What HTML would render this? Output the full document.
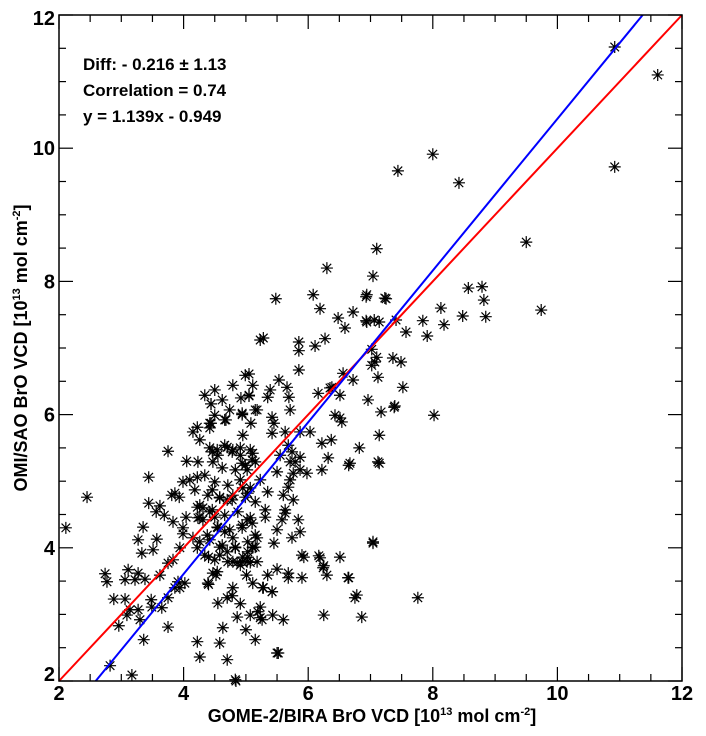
<!DOCTYPE html>
<html><head><meta charset="utf-8">
<style>
html,body{margin:0;padding:0;background:#fff;}
svg{display:block;}
text{font-family:"Liberation Sans",Arial,sans-serif;font-weight:bold;fill:#000;}
</style></head>
<body>
<svg id="chart" width="706" height="736" viewBox="0 0 706 736">
  <g id="marks"></g>
  <g id="ticks"></g>
  <line id="redline" stroke="#ff0000" stroke-width="2"/>
  <line id="blueline" stroke="#0000ff" stroke-width="2"/>
  <rect x="59" y="15" width="623" height="666" fill="none" stroke="#000" stroke-width="1.5"/>
  <g id="labels"></g>
  <text x="83" y="70" font-size="17">Diff: - 0.216 ± 1.13</text>
  <text x="83" y="96" font-size="17">Correlation = 0.74</text>
  <text x="83" y="122" font-size="17">y = 1.139x - 0.949</text>
  <text x="372" y="722" font-size="18" text-anchor="middle">GOME-2/BIRA BrO VCD [10<tspan font-size="11" dy="-7">13</tspan><tspan dy="7"> mol cm</tspan><tspan font-size="11" dy="-7">-2</tspan><tspan dy="7">]</tspan></text>
  <text transform="translate(27,348) rotate(-90)" font-size="18" text-anchor="middle">OMI/SAO BrO VCD [10<tspan font-size="11" dy="-7">13</tspan><tspan dy="7"> mol cm</tspan><tspan font-size="11" dy="-7">-2</tspan><tspan dy="7">]</tspan></text>
</svg>
<script>
const xTicks = [2,4,6,8,10,12];
const yTicks = [2,4,6,8,10,12];
const xDomain = [2,12];
const yDomain = [2,12];
const slope = 1.139;
const intercept = -0.949;
const xVals = [10.92,11.61,10.92,8.00,7.44,8.42,9.50,9.74,7.10,6.30,7.04,8.57,8.79,8.82,8.85,8.48,8.13,8.18,7.84,7.91,7.23,6.93,6.93,7.06,7.41,7.57,7.36,7.49,7.52,7.38,8.02,7.02,7.07,7.12,7.14,7.12,7.04,7.76,6.75,6.86,6.65,6.65,6.82,6.51,6.22,5.93,6.17,6.25,6.25,5.52,5.90,5.68,5.87,
5.48,6.08,6.19,6.48,6.72,6.59,6.94,7.25,6.94,7.14,5.23,5.28,5.85,5.85,6.11,6.27,5.05,5.85,5.53,5.39,5.35,5.66,5.69,5.05,4.44,4.42,4.66,4.94,5.18,5.42,5.45,5.71,5.08,5.42,4.95,6.16,6.35,6.51,6.43,6.54,5.87,6.03,6.22,6.37,6.32,6.67,7.14,6.96,7.17,7.39,7.02,7.10,6.56,6.72,6.38,5.87,5.98,5.71,5.76,5.68,5.50,5.35,5.63,5.58,5.31,5.31,5.50,5.74,5.45,5.11,5.90,6.19,6.24,6.30,6.51,6.64,7.04,6.78,5.68,5.50,5.35,5.28,5.42,5.11,5.01,4.79,4.86,4.95,5.07,4.52,4.40,4.58,4.40,
4.42,4.55,4.66,4.78,4.91,5.07,4.47,4.62,4.83,4.99,5.15,4.34,4.50,4.71,4.91,5.07,5.23,4.39,4.58,4.78,4.99,5.15,4.46,4.66,4.87,5.07,4.31,4.55,4.74,4.94,5.15,4.42,4.62,4.83,5.03,4.34,4.50,4.71,4.91,4.42,4.26,4.23,4.18,4.26,
5.05,5.15,4.94,4.44,4.68,4.44,4.22,4.15,3.75,4.05,3.44,2.45,2.11,3.99,4.10,4.22,4.46,4.54,4.70,4.79,3.86,3.81,3.93,3.44,3.62,3.56,3.69,3.83,3.99,3.99,4.04,3.35,3.27,3.57,3.33,3.51,4.22,4.31,4.23,4.42,4.50,4.15,4.26,4.22,3.94,3.83,3.75,3.62,3.38,3.27,3.11,3.06,3.22,2.74,2.77,4.02,3.94,3.91,3.86,4.39,4.47,4.54,4.79,4.94,5.02,5.03,5.11,5.18,2.88,3.06,3.14,3.09,3.27,3.30,3.48,3.49,3.65,3.75,2.96,3.75,3.36,4.22,4.26,4.63,4.70,4.55,4.86,5.07,2.82,3.17,4.83,4.94,5.02,5.10,5.11,4.91,4.46,4.58,4.70,4.79,4.95,5.03,4.54,4.66,4.79,4.94,5.02,5.10,4.58,4.70,4.83,5.03,5.15,5.18,4.38,4.26,
5.27,5.42,4.78,4.91,5.19,5.26,5.43,5.60,5.00,5.15,4.70,4.58,5.23,5.23,5.50,4.84,
5.63,5.68,5.74,5.55,5.79,5.87,5.71,5.60,5.76,5.63,5.84,4.34,4.50,4.62,4.79,4.99,5.11,4.92,4.74,4.50];
const yVals = [11.52,11.10,9.72,9.91,9.66,9.48,8.59,7.57,8.49,8.20,8.08,7.90,7.92,7.72,7.47,7.48,7.60,7.35,7.41,7.18,7.75,7.77,7.41,7.42,7.42,7.24,6.85,6.79,6.41,6.11,5.99,6.98,6.79,6.56,5.69,5.29,4.09,3.25,3.25,2.96,3.55,5.24,5.50,5.95,5.17,3.86,3.88,3.73,2.99,2.42,3.55,3.62,4.24,
7.74,7.80,7.59,7.45,7.54,7.30,7.80,7.74,7.39,7.39,7.12,7.15,7.09,6.96,7.03,7.14,6.61,6.67,6.52,6.37,6.26,6.41,6.26,6.28,6.16,5.87,5.92,6.00,6.07,5.96,5.87,6.07,5.87,5.72,5.69,6.32,6.40,6.29,5.99,5.89,5.74,5.74,5.57,5.62,5.35,5.27,5.27,6.22,6.04,6.13,6.74,6.86,6.62,6.52,6.41,5.36,5.12,5.29,5.12,4.91,5.14,4.84,4.52,4.42,4.57,4.46,4.27,4.15,4.07,4.01,3.89,3.85,3.70,3.59,3.86,3.55,4.07,3.29,3.55,3.68,3.59,3.40,3.34,3.47,3.59,3.40,3.78,3.86,3.78,3.59,3.45,3.89,3.86,
5.50,5.39,5.54,5.44,5.50,5.47,5.29,5.20,5.17,5.24,5.29,5.09,4.99,4.94,5.02,4.90,5.02,4.79,4.75,4.72,4.76,4.69,4.57,4.49,4.54,4.45,4.42,4.30,4.27,4.34,4.19,4.12,4.04,4.00,4.09,3.89,3.82,3.79,3.74,5.80,5.62,5.29,4.87,4.64,
6.29,6.07,6.02,6.16,5.92,5.87,5.81,5.74,5.45,5.30,5.06,4.76,4.30,4.99,5.02,5.06,5.44,5.47,5.51,5.47,4.82,4.79,4.76,4.67,4.63,4.54,4.49,4.39,4.30,4.21,4.46,4.31,4.12,4.13,3.92,3.97,4.61,4.60,4.45,4.54,4.46,4.15,4.09,4.00,4.00,3.82,3.77,3.59,3.53,3.62,3.67,3.52,3.52,3.61,3.49,3.47,3.40,3.49,3.40,3.47,3.62,3.64,3.79,3.79,3.79,3.86,4.00,3.79,3.23,3.23,3.07,2.99,3.07,2.92,3.22,3.11,3.10,3.25,2.83,2.81,2.62,2.59,2.36,2.80,3.25,3.17,2.96,2.99,2.23,2.09,2.02,5.27,5.17,5.32,5.42,5.39,4.87,4.76,4.72,4.79,4.90,4.82,4.31,4.24,4.15,4.30,4.42,4.37,4.01,3.94,4.01,3.94,4.01,4.15,4.19,4.46,
3.40,3.34,3.28,3.16,3.04,2.92,2.99,2.92,2.77,2.62,2.32,2.57,3.11,2.95,2.42,2.00,
5.74,5.54,5.44,5.39,5.29,5.17,5.02,4.79,4.72,4.57,4.42,6.29,6.37,6.22,6.44,6.59,6.44,6.25,6.07,5.99];

const L=59,R=682,T=15,B=681;
const NS='http://www.w3.org/2000/svg';
function sx(v){return L+(v-xDomain[0])/(xDomain[1]-xDomain[0])*(R-L);}
function sy(v){return B-(v-yDomain[0])/(yDomain[1]-yDomain[0])*(B-T);}

const marks=document.getElementById('marks');
const n=Math.min(xVals.length,yVals.length);
for(let i=0;i<n;i++){
  const cx=sx(xVals[i]), cy=sy(yVals[i]), r=6, d=4.3;
  const p=document.createElementNS(NS,'path');
  p.setAttribute('d',`M${cx-r} ${cy}H${cx+r}M${cx} ${cy-r}V${cy+r}M${cx-d} ${cy-d}L${cx+d} ${cy+d}M${cx-d} ${cy+d}L${cx+d} ${cy-d}`);
  p.setAttribute('stroke','#000');
  p.setAttribute('stroke-width','1.2');
  p.setAttribute('fill','none');
  
  
  marks.appendChild(p);
}

// reference lines
const red=document.getElementById('redline');
red.setAttribute('x1',sx(2));red.setAttribute('y1',sy(2));
red.setAttribute('x2',sx(12));red.setAttribute('y2',sy(12));
const blue=document.getElementById('blueline');
const bx1=(yDomain[0]-intercept)/slope, bx2=(yDomain[1]-intercept)/slope;
blue.setAttribute('x1',sx(bx1));blue.setAttribute('y1',sy(yDomain[0]));
blue.setAttribute('x2',sx(bx2));blue.setAttribute('y2',sy(yDomain[1]));

// ticks
const ticks=document.getElementById('ticks');
function ln(x1,y1,x2,y2){
  const l=document.createElementNS(NS,'line');
  l.setAttribute('x1',x1);l.setAttribute('y1',y1);l.setAttribute('x2',x2);l.setAttribute('y2',y2);
  l.setAttribute('stroke','#000');l.setAttribute('stroke-width','1.2');
  
  
  ticks.appendChild(l);
}
for(let v=2;v<=12.001;v+=0.5){
  const major=Math.abs(v-Math.round(v/2)*2)<0.01;
  const len=major?14:7;
  const x=sx(v), y=sy(v);
  ln(x,B,x,B-len); ln(x,T,x,T+len);
  ln(L,y,L+len,y); ln(R,y,R-len,y);
}
const labels=document.getElementById('labels');
xTicks.forEach(v=>{
  const t=document.createElementNS(NS,'text');
  t.setAttribute('x',sx(v));t.setAttribute('y',B+19);
  t.setAttribute('font-size','20');t.setAttribute('text-anchor','middle');
  t.textContent=v;
  
  
  labels.appendChild(t);
});
yTicks.forEach(v=>{
  const t=document.createElementNS(NS,'text');
  t.setAttribute('x',L-4);t.setAttribute('y',sy(v)+ (v===12?10:(v===2?0:7)));
  t.setAttribute('font-size','20');t.setAttribute('text-anchor','end');
  t.textContent=v;
  
  
  labels.appendChild(t);
});
</script>
</body></html>
